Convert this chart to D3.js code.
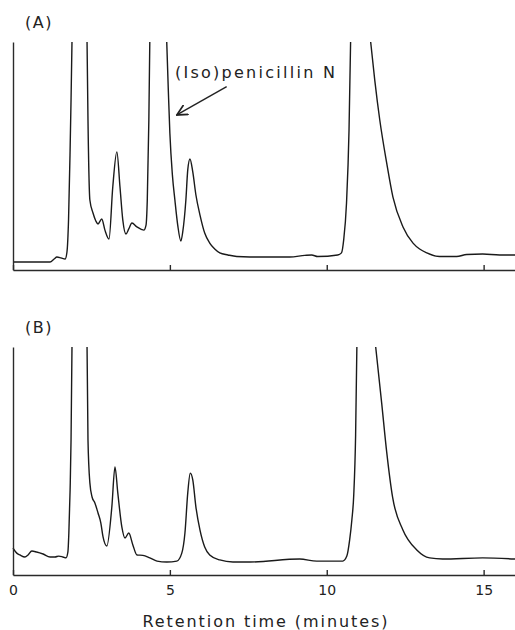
<!DOCTYPE html>
<html>
<head>
<meta charset="utf-8">
<script src="https://cdn.jsdelivr.net/npm/d3@7"></script>
<style>
  body { margin: 0; background: #fff; }
  .trace { fill: none; stroke: #1a1a1a; stroke-width: 1.4; stroke-linejoin: round; }
  .axis path, .axis line { stroke: #2a2a2a; stroke-width: 1.4; }
  .axis text { font-family: "DejaVu Sans", sans-serif; font-size: 14px; fill: #222; }
  .label { font-family: "DejaVu Sans", sans-serif; fill: #222; }
</style>
</head>
<body>
<script>
// retention time (minutes), detector signal (relative, 100 = top of the panel, null = off scale)
var traceA = [[0.00,3.5],[1.18,3.5],[1.31,4.8],[1.40,5.7],[1.53,5.3],[1.66,4.8],[1.72,7.9],[1.77,21.9],[1.82,52.6],[1.85,74.6],[1.88,100],[2.12,null],[2.36,100],[2.39,65.8],[2.45,30.7],[2.55,25],[2.64,21.5],[2.71,20.2],[2.83,22.4],[2.93,17.5],[3.06,13.6],[3.18,36.4],[3.31,51.8],[3.41,36.4],[3.50,21.9],[3.60,15.8],[3.69,18],[3.79,20.6],[3.95,18.9],[4.17,17.5],[4.24,19.7],[4.28,30.7],[4.33,65.8],[4.36,100],[4.63,null],[4.90,100],[4.95,79],[5.00,60],[5.08,41.7],[5.16,30.7],[5.25,19.7],[5.35,12.7],[5.41,16.7],[5.51,30.7],[5.57,43.9],[5.64,48.7],[5.73,43],[5.83,32.9],[5.96,24.1],[6.11,16.2],[6.27,11.8],[6.43,9.2],[6.59,7.5],[6.85,6.6],[7.13,5.9],[7.55,5.7],[8.82,5.7],[9.30,6.4],[9.52,6.6],[9.71,5.9],[10.35,6.6],[10.47,7.5],[10.54,13.2],[10.63,29.4],[10.71,61.4],[10.76,100],[11.08,null],[11.40,100],[11.53,83.3],[11.69,65.8],[11.91,47],[12.11,32],[12.43,18.9],[12.75,11.8],[12.96,9.2],[13.19,7.5],[13.60,5.9],[14.14,5.9],[14.46,6.8],[14.97,7],[15.51,6.6],[16.0,6.6]];

var traceB = [[0.00,11.8],[0.12,9.6],[0.22,8.8],[0.38,7.9],[0.48,8.8],[0.60,10.5],[0.75,10.1],[0.96,9.2],[1.18,7.9],[1.34,7.9],[1.46,8.3],[1.59,7.9],[1.69,7.5],[1.75,10.1],[1.78,18.4],[1.82,37.3],[1.85,59.2],[1.88,100],[2.12,null],[2.36,100],[2.39,59.2],[2.45,40.4],[2.52,34.2],[2.61,31.6],[2.71,27.2],[2.80,22.8],[2.87,16.7],[2.99,12.7],[3.15,29.8],[3.25,47.4],[3.34,36],[3.47,21],[3.57,16.2],[3.69,18.4],[3.82,13.2],[3.95,8.8],[4.14,8.6],[4.36,7.5],[4.59,6.1],[4.90,5.7],[5.22,6.1],[5.38,9.6],[5.48,18.4],[5.57,36],[5.65,44.7],[5.73,41.7],[5.83,29.8],[5.96,19.7],[6.11,12.3],[6.27,8.8],[6.59,6.6],[7.01,5.7],[7.55,5.7],[9.14,7],[9.68,6.1],[10.51,6.1],[10.64,8.3],[10.73,15.4],[10.80,24.1],[10.86,35],[10.92,61.4],[10.96,100],[11.26,null],[11.56,100],[11.75,75.5],[11.91,54],[12.10,34],[12.42,20],[12.87,11],[13.28,7.5],[13.69,7],[14.97,7.5],[16.0,7]];

var xTicks = [0, 5, 10, 15];
var panelLabels = ["(A)", "(B)"];
var peakName = "(Iso)penicillin N";
var xTitle = "Retention time (minutes)";
// arrow in panel A: from [time, signal] to [time, signal]
var arrowFrom = [6.81, 80.4], arrowTo = [5.22, 68];

var width = 515, height = 630;

var svg = d3.select("body").append("svg")
    .attr("width", width)
    .attr("height", height);

//shared time scale
var x = d3.scaleLinear().domain([0, 16]).range([13, 515]);

//off-scale stretches are left out, so the pen leaves the top of the panel
var line = d3.line()
    .defined(function(d){ return d[1] !== null; })
    .curve(d3.curveMonotoneX);

//arrow head
svg.append("defs").append("marker")
    .attr("id", "head")
    .attr("viewBox", "0 0 10 10")
    .attr("refX", 9).attr("refY", 5)
    .attr("markerUnits", "userSpaceOnUse")
    .attr("markerWidth", 12).attr("markerHeight", 12)
    .attr("orient", "auto")
  .append("path")
    .attr("d", "M0,0.5L9,5L0,9.5")
    .attr("fill", "none")
    .attr("stroke", "#222")
    .attr("stroke-width", 1.4);

function drawPanel(trace, top, bottom, idx, showLabels){
    var y = d3.scaleLinear().domain([0, 100]).range([bottom, top]);

    svg.append("path")
        .datum(trace)
        .attr("class", "trace")
        .attr("d", line.x(function(d){ return x(d[0]); }).y(function(d){ return y(d[1]); }));

    //x axis with inward ticks
    var xAxis = d3.axisBottom(x)
        .tickValues(xTicks)
        .tickSizeInner(-5)
        .tickSizeOuter(0)
        .tickPadding(10)
        .tickFormat(showLabels ? d3.format("d") : function(){ return ""; });

    svg.append("g")
        .attr("class", "axis")
        .attr("transform", "translate(0," + y(0) + ")")
        .call(xAxis);

    //y axis is just a line
    svg.append("g")
        .attr("class", "axis")
        .attr("transform", "translate(" + x(0) + ",0)")
        .call(d3.axisLeft(y).tickValues([]).tickSizeOuter(0));

    svg.append("text")
        .attr("class", "label")
        .attr("x", x(0) + 12)
        .attr("y", top - 14)
        .attr("font-size", 16)
        .attr("letter-spacing", 1.5)
        .text(panelLabels[idx]);

    return y;
}

var yA = drawPanel(traceA, 42, 270, 0, false);
var yB = drawPanel(traceB, 347, 575, 1, true);

//annotation for panel A
svg.append("text")
    .attr("class", "label")
    .attr("x", x(5.16))
    .attr("y", yA(84.2))
    .attr("font-size", 16)
    .attr("textLength", 160)
    .attr("lengthAdjust", "spacing")
    .text(peakName);

svg.append("line")
    .attr("x1", x(arrowFrom[0])).attr("y1", yA(arrowFrom[1]))
    .attr("x2", x(arrowTo[0])).attr("y2", yA(arrowTo[1]))
    .attr("stroke", "#222")
    .attr("stroke-width", 1.4)
    .attr("marker-end", "url(#head)");

//axis title
svg.append("text")
    .attr("class", "label")
    .attr("x", 265)
    .attr("y", 627)
    .attr("text-anchor", "middle")
    .attr("font-size", 16)
    .attr("textLength", 245)
    .attr("lengthAdjust", "spacing")
    .text(xTitle);
</script>
</body>
</html>
